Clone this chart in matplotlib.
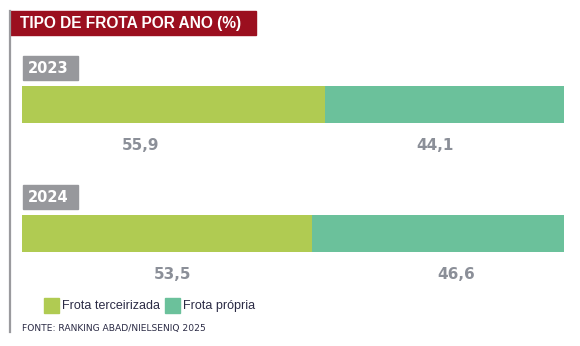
import matplotlib
matplotlib.use("Agg")
import matplotlib.pyplot as plt
from matplotlib.patches import Rectangle
from matplotlib.lines import Line2D

# ---- data ----
years = ["2023", "2024"]
series_names = ["Frota terceirizada", "Frota própria"]
terceirizada = [55.9, 53.5]
propria = [44.1, 46.6]
value_labels = [["55,9", "44,1"], ["53,5", "46,6"]]
title = "TIPO DE FROTA POR ANO (%)"
source = "FONTE: RANKING ABAD/NIELSENIQ 2025"

# ---- style ----
W, H = 580, 346
colors = ["#B0CB52", "#6BC19B"]
red = "#9B0F1F"
gray_box = "#97989C"
value_color = "#8B8F98"
text_dark = "#2B2B45"
label_frac = [[0.39, 0.46], [0.52, 0.57]]  # label position within segment

fig = plt.figure(figsize=(W / 100, H / 100), dpi=100)
fig.patch.set_facecolor("white")

def fx(px):
    return px / W

def fy(py):
    return 1 - py / H

# bar axes: x 0..100 maps to pixels 22..564; y rows centered at px 104.4 and 233.4
ax = fig.add_axes([fx(22), 0, fx(564) - fx(22), 1])
c0, step = 104.4, 129.0
ax.set_xlim(0, 100)
ax.set_ylim((H - c0) / step, (0 - c0) / step)
ax.axis("off")

bar_h = 36.7 / step
ypos = list(range(len(years)))
ax.barh(ypos, terceirizada, height=bar_h, color=colors[0], linewidth=0)
ax.barh(ypos, propria, left=terceirizada, height=bar_h, color=colors[1], linewidth=0)

label_off = 41.0 / step
for i in ypos:
    segs = [(0, terceirizada[i]), (terceirizada[i], propria[i])]
    for j, (l, w) in enumerate(segs):
        ax.text(l + w * label_frac[i][j], i + label_off, value_labels[i][j],
                ha="center", va="center", fontsize=11, fontweight="bold",
                color=value_color, family="DejaVu Sans")
    # year tag
    top_px = c0 + i * step - 48.5
    fig.patches.append(Rectangle((fx(22.5), fy(top_px + 24)), fx(55), 24 / H,
                                 transform=fig.transFigure, color=gray_box, zorder=1))
    fig.text(fx(28), fy(top_px + 12.5), years[i], ha="left", va="center",
             fontsize=10.5, fontweight="heavy", color="white", family="DejaVu Sans", zorder=2)

# left vertical rule
fig.add_artist(Line2D([fx(10), fx(10)], [fy(11), fy(332)], color="#9A9A9E", linewidth=1.6))

# title band
fig.patches.append(Rectangle((fx(10), fy(35)), fx(246), 24 / H,
                             transform=fig.transFigure, color=red, zorder=1))
fig.text(fx(20), fy(23.5), title, ha="left", va="center", fontsize=11.2,
         fontweight="bold", color="white", family="Liberation Sans", zorder=2)

# legend
leg_x = [44, 165]
for k, name in enumerate(series_names):
    fig.patches.append(Rectangle((fx(leg_x[k]), fy(313)), fx(15), 15 / H,
                                 transform=fig.transFigure, color=colors[k]))
    fig.text(fx(leg_x[k] + 18), fy(306), name, ha="left", va="center",
             fontsize=9, color=text_dark, family="Liberation Sans")

# source
fig.text(fx(22), fy(328.5), source, ha="left", va="center", fontsize=6.6,
         color=text_dark, family="DejaVu Sans")

fig.savefig("out.png", dpi=100, facecolor="white")
